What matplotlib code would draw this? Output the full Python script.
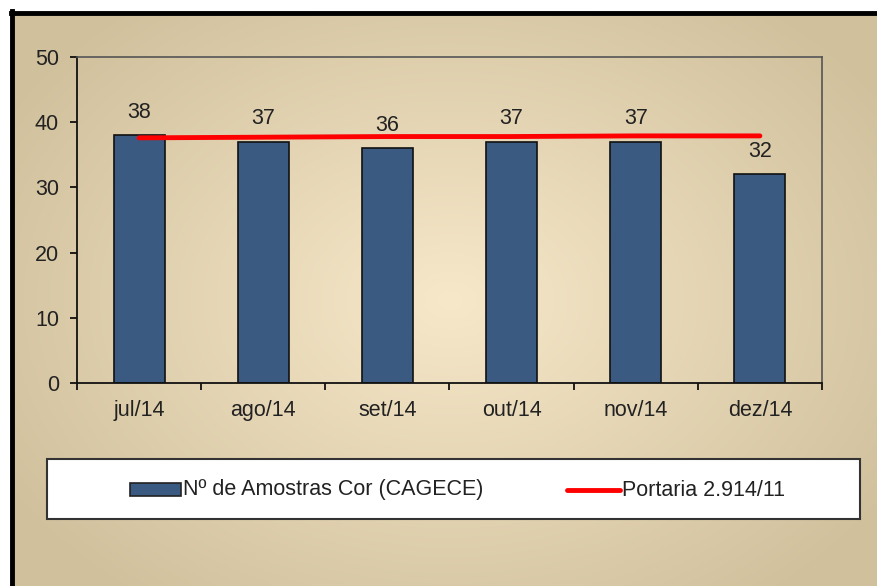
import numpy as np
import matplotlib.pyplot as plt
from matplotlib.lines import Line2D
from matplotlib.patches import Rectangle

plt.rcParams['font.family'] = ['Liberation Sans', 'DejaVu Sans']

# data
meses = ['jul/14', 'ago/14', 'set/14', 'out/14', 'nov/14', 'dez/14']
amostras = [38, 37, 36, 37, 37, 32]
portaria = [37.6, 37.7, 37.8, 37.8, 37.9, 37.9]

W, H = 877, 586
FS = 15.5
fig = plt.figure(figsize=(W / 100, H / 100), dpi=100)

# background with a soft radial gradient
bg = fig.add_axes([0, 0, 1, 1])
yy, xx = np.mgrid[0:H, 0:W]
r = np.sqrt(((xx - 450) / 520) ** 2 + ((yy - 300) / 380) ** 2)
r = np.clip(r, 0, 1)
c_in = np.array([247, 232, 202]) / 255
c_out = np.array([208, 192, 156]) / 255
img = c_in[None, None, :] * (1 - r[..., None]) + c_out[None, None, :] * r[..., None]
bg.imshow(img, extent=[0, W, H, 0], aspect='auto')
bg.set_xlim(0, W)
bg.set_ylim(H, 0)
bg.axis('off')
# white strip above / left of the frame
bg.add_patch(Rectangle((0, 0), W, 10, color='white', zorder=2))
bg.add_patch(Rectangle((0, 0), 9, H, color='white', zorder=2))
# thick black frame (top and left)
bg.add_line(Line2D([11, W], [12.5, 12.5], color='black', lw=3.5, zorder=3))
bg.add_line(Line2D([11.5, 11.5], [11, H], color='black', lw=3.5, zorder=3))
# legend box
bg.add_patch(Rectangle((47, 459), 813, 60, facecolor='white', edgecolor='#333333', lw=1.5, zorder=3))
bg.add_patch(Rectangle((130, 483), 51, 13, facecolor='#3B5A82', edgecolor='#222222', lw=1.2, zorder=4))
bg.text(183, 490, 'Nº de Amostras Cor (CAGECE)', fontsize=FS, va='center', ha='left', color='#222222', zorder=4)
bg.add_line(Line2D([567, 620], [489.5, 489.5], color='red', lw=3.5, solid_capstyle='round', zorder=4))
bg.text(622, 490, 'Portaria 2.914/11', fontsize=FS, va='center', ha='left', color='#222222', zorder=4)

# main plot area
ax = fig.add_axes([77 / W, 1 - 383 / H, (822 - 77) / W, (383 - 57) / H])
ax.patch.set_alpha(0)
x = np.arange(len(meses))
ax.bar(x, amostras, width=0.41, color='#3B5A82', edgecolor='#111111', linewidth=1.2, zorder=2)
ax.plot(x, portaria, color='red', lw=3.5, solid_capstyle='round', zorder=3)
for xi, v in zip(x, amostras):
    ax.annotate(str(v), (xi, v), xytext=(0, 9), textcoords='offset points',
                ha='center', va='bottom', fontsize=FS, color='#222222')

ax.set_xlim(-0.5, len(meses) - 0.5)
ax.set_ylim(0, 50)
ax.set_yticks([0, 10, 20, 30, 40, 50])
ax.set_xticks(x)
ax.set_xticklabels(meses)
ax.set_xticks(np.arange(-0.5, len(meses), 1), minor=True)
ax.tick_params(axis='x', which='major', length=0, pad=12, labelsize=FS, labelcolor='#222222')
ax.tick_params(axis='x', which='minor', length=5, direction='out', width=1.2)
ax.tick_params(axis='y', length=5, direction='out', width=1.2, labelsize=FS, labelcolor='#222222', pad=8)
for s in ['left', 'bottom']:
    ax.spines[s].set_color('#111111')
    ax.spines[s].set_linewidth(1.3)
for s in ['top', 'right']:
    ax.spines[s].set_color('#555555')
    ax.spines[s].set_linewidth(1.2)

fig.savefig('out.png', dpi=100)
